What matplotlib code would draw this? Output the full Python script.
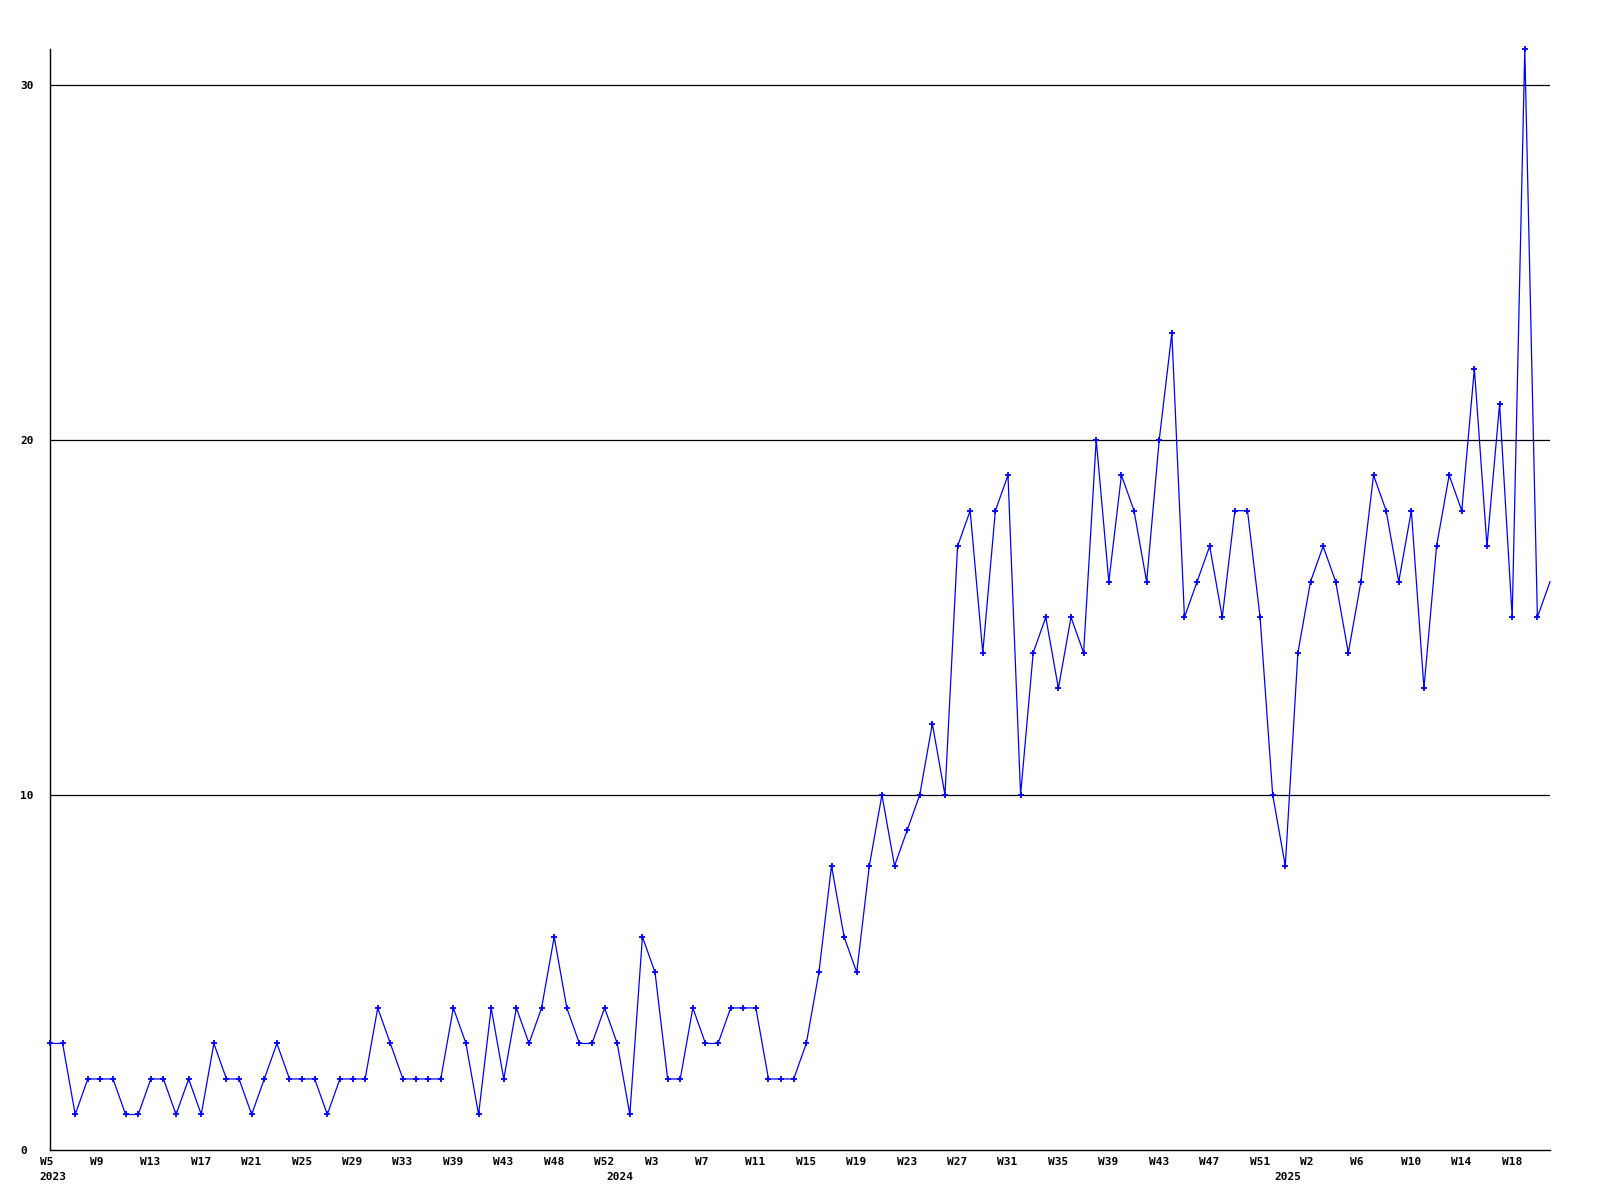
import matplotlib
matplotlib.use("Agg")
import matplotlib.pyplot as plt
import numpy as np

# weekly counts, one value per point, W5 2023 .. W21 2025
counts = [
    3, 3, 1, 2, 2, 2, 1, 1, 2, 2, 1, 2, 1, 3, 2, 2, 1, 2, 3, 2,
    2, 2, 1, 2, 2, 2, 4, 3, 2, 2, 2, 2, 4, 3, 1, 4, 2, 4, 3, 4,
    6, 4, 3, 3, 4, 3, 1, 6, 5, 2, 2, 4, 3, 3, 4, 4, 4, 2, 2, 2,
    3, 5, 8, 6, 5, 8, 10, 8, 9, 10, 12, 10, 17, 18, 14, 18, 19, 10, 14, 15,
    13, 15, 14, 20, 16, 19, 18, 16, 20, 23, 15, 16, 17, 15, 18, 18, 15, 10, 8, 14,
    16, 17, 16, 14, 16, 19, 18, 16, 18, 13, 17, 19, 18, 22, 17, 21, 15, 31, 15, 16,
]

# a week label on every 4th point
week_labels = ["W5", "W9", "W13", "W17", "W21", "W25", "W29", "W33", "W39", "W43",
               "W48", "W52", "W3", "W7", "W11", "W15", "W19", "W23", "W27", "W31",
               "W35", "W39", "W43", "W47", "W51", "W2", "W6", "W10", "W14", "W18"]
year_labels = ["2023", "2024", "2025"]
year_pos = [0, 45, 98]

y_ticks = [0, 10, 20, 30]

x = np.arange(len(counts))
font = dict(family="DejaVu Sans Mono", weight="bold", size=8)

fig = plt.figure(figsize=(16, 12), dpi=100)
ax = fig.add_axes([50 / 1600, 50 / 1200, 1500 / 1600, 1101 / 1200])

for v in y_ticks[1:]:
    ax.axhline(v, color="black", lw=0.9, zorder=1)

# the last point has no marker in the original
ax.plot(x, counts, color="#0000ff", lw=0.9, marker="+", markersize=4.5,
        markeredgewidth=1.3, markevery=list(range(len(counts) - 1)),
        zorder=3, clip_on=False)

ax.set_xlim(0, len(counts) - 1)
ax.set_ylim(0, 31)

ax.set_xticks([])
ax.set_yticks(y_ticks)
ax.set_yticklabels([str(v) for v in y_ticks], **font, ha="left")
ax.tick_params(axis="y", length=0, pad=21.6)

# labels start a little left of their point
for lab, pos in zip(week_labels, x[::4]):
    ax.annotate(lab, xy=(pos, 0), xycoords=("data", "axes fraction"),
                xytext=(-10.5, -12), textcoords="offset pixels",
                ha="left", va="center", **font)
for lab, pos in zip(year_labels, year_pos):
    ax.annotate(lab, xy=(pos, 0), xycoords=("data", "axes fraction"),
                xytext=(-10.5, -27), textcoords="offset pixels",
                ha="left", va="center", **font)

for s in ["top", "right"]:
    ax.spines[s].set_visible(False)
for s in ["left", "bottom"]:
    ax.spines[s].set_linewidth(1.0)
    ax.spines[s].set_color("black")

fig.savefig("out.png", dpi=100)
